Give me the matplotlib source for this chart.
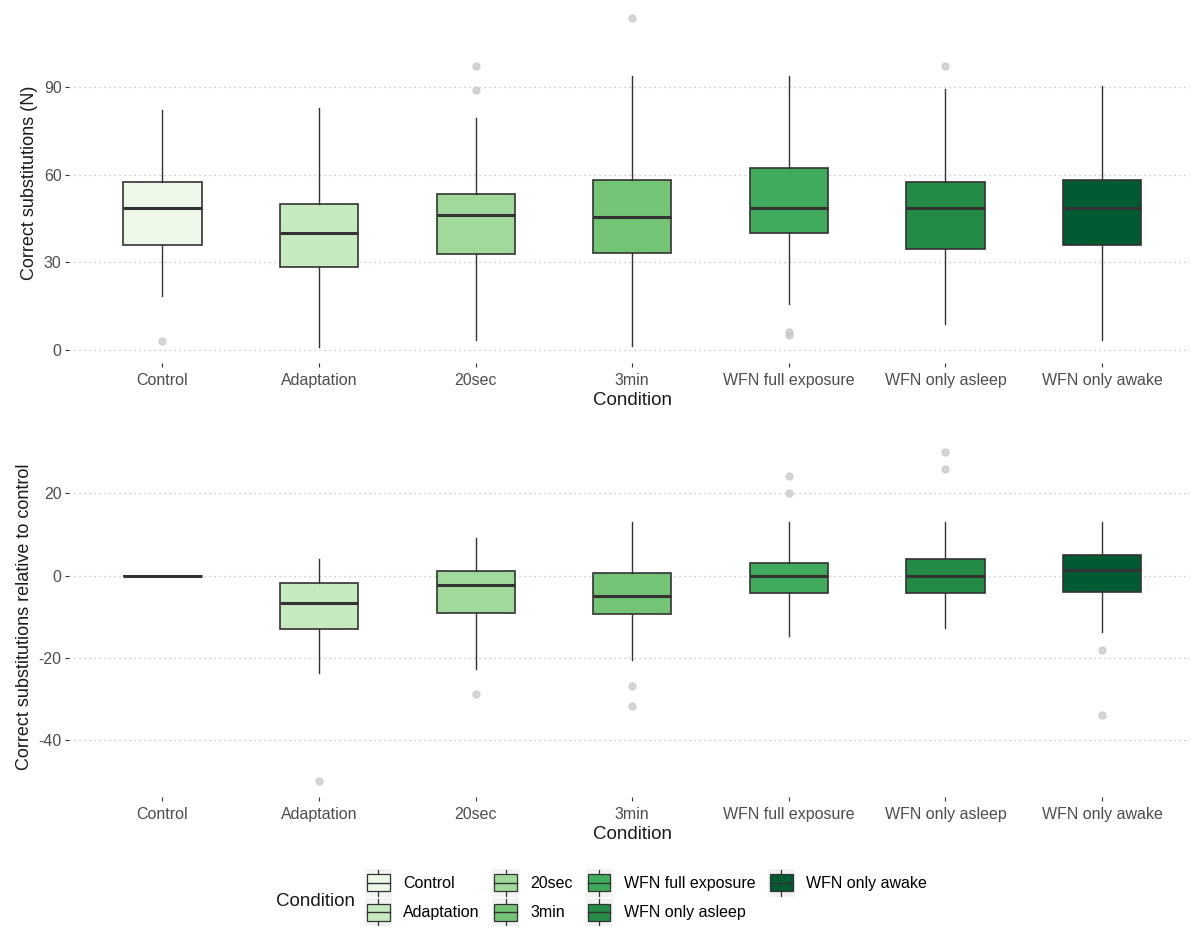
"""
Two-panel boxplot: correct substitutions by condition, raw and relative to control.
"""

import matplotlib
matplotlib.use("Agg")
import matplotlib.pyplot as plt
from matplotlib.patches import Patch, Rectangle
from matplotlib.lines import Line2D
from matplotlib.legend_handler import HandlerBase

plt.rcParams["font.family"] = ["Liberation Sans", "DejaVu Sans"]

conditions = ["Control", "Adaptation", "20sec", "3min",
              "WFN full exposure", "WFN only asleep", "WFN only awake"]
colors = ["#EDF8E9", "#C7E9C0", "#A1D99B", "#74C476", "#41AB5D", "#238B45", "#005A32"]

# top panel: correct substitutions (N)
n_whislo = [18.5, 1, 3.3, 1.2, 15.6, 8.6, 3.3]
n_q1 = [36, 28.4, 32.6, 33, 40, 34.4, 36]
n_med = [48.5, 40, 46.3, 45.4, 48.5, 48.5, 48.5]
n_q3 = [57.4, 50, 53.5, 58.3, 62.2, 57.4, 58.3]
n_whishi = [82.3, 83, 79.4, 93.7, 93.7, 89.3, 90.5]
n_fliers = [[3], [], [89, 97.4], [113.6], [5, 6], [97.4], []]
n_ticks = [0, 30, 60, 90]

# bottom panel: relative to control
d_whislo = [0, -23.7, -22.7, -20.5, -14.7, -12.8, -13.7]
d_q1 = [0, -13, -9, -9.3, -4.2, -4.2, -3.9]
d_med = [0, -6.6, -2.3, -4.9, 0, 0, 1.3]
d_q3 = [0, -1.9, 1.1, 0.6, 3, 4, 4.9]
d_whishi = [0, 4, 9.1, 13, 13, 13, 13]
d_fliers = [[], [-49.8], [-28.8], [-26.9, -31.8], [20, 24.1], [25.9, 29.9], [-18, -33.8]]
d_ticks = [-40, -20, 0, 20]

EDGE = "#333333"
TICK_TXT = "#4D4D4D"


class BoxKeyHandler(HandlerBase):
    def create_artists(self, legend, orig_handle, xdescent, ydescent,
                       width, height, fontsize, trans):
        x0, y0 = -xdescent, -ydescent
        bg = Rectangle((x0, y0), width, height, facecolor="#F2F2F2",
                       edgecolor="none", transform=trans)
        cx = x0 + width / 2
        stem = Line2D([cx, cx], [y0 + height * 0.04, y0 + height * 0.96],
                      color=EDGE, lw=0.9, transform=trans)
        box = Rectangle((x0 + width * 0.08, y0 + height * 0.2), width * 0.84, height * 0.6,
                        facecolor=orig_handle.get_facecolor(), edgecolor=EDGE, lw=0.9,
                        transform=trans)
        med = Line2D([x0 + width * 0.08, x0 + width * 0.92], [y0 + height / 2] * 2,
                     color=EDGE, lw=1.0, transform=trans)
        return [bg, stem, box, med]


def draw_panel(ax, whislo, q1, med, q3, whishi, fliers, ticks, ylabel):
    stats = [dict(whislo=a, q1=b, med=c, q3=d, whishi=e, fliers=f)
             for a, b, c, d, e, f in zip(whislo, q1, med, q3, whishi, fliers)]
    pos = list(range(1, len(conditions) + 1))
    bp = ax.bxp(stats, positions=pos, widths=0.5, patch_artist=True, showcaps=False,
                boxprops=dict(edgecolor=EDGE, linewidth=1.2),
                medianprops=dict(color=EDGE, linewidth=2.2),
                whiskerprops=dict(color=EDGE, linewidth=1.0),
                flierprops=dict(marker="o", markersize=5, markerfacecolor="#C8C8C8",
                                markeredgecolor="#C8C8C8", alpha=0.75))
    for patch, col in zip(bp["boxes"], colors):
        patch.set_facecolor(col)

    allvals = whislo + whishi + [v for fl in fliers for v in fl]
    lo, hi = min(allvals), max(allvals)
    pad = 0.05 * (hi - lo)
    ax.set_ylim(lo - pad, hi + pad)
    ax.set_xlim(0.4, len(conditions) + 0.6)

    ax.set_xticks(pos)
    ax.set_xticklabels(conditions)
    ax.set_yticks(ticks)
    ax.set_yticklabels([str(t) for t in ticks])
    for s in ax.spines.values():
        s.set_visible(False)
    ax.tick_params(axis="both", color=EDGE, labelcolor=TICK_TXT, labelsize=11.5,
                   length=3, width=0.8)
    ax.tick_params(axis="x", pad=4)
    ax.tick_params(axis="y", pad=2)
    ax.yaxis.grid(True, linestyle=(0, (1, 3)), color="#BDBDBD", linewidth=0.9)
    ax.set_axisbelow(True)
    ax.set_xlabel("Condition", fontsize=13.5, color="#1A1A1A", labelpad=3)
    ax.set_ylabel(ylabel, fontsize=13, color="#1A1A1A", labelpad=4)


fig = plt.figure(figsize=(11.9, 9.27), dpi=100)
# panel runs slightly past the right edge, as in the cropped original
ax1 = fig.add_axes([68.5 / 1190, 564 / 927, 1127.5 / 1190, 361 / 927])
ax2 = fig.add_axes([68.5 / 1190, 130 / 927, 1127.5 / 1190, 361 / 927])

draw_panel(ax1, n_whislo, n_q1, n_med, n_q3, n_whishi, n_fliers, n_ticks,
           "Correct substitutions (N)")
draw_panel(ax2, d_whislo, d_q1, d_med, d_q3, d_whishi, d_fliers, d_ticks,
           "Correct substitutions relative to control")

handles = [Patch(facecolor=c) for c in colors]
fig.text(355 / 1190, 26 / 927, "Condition", fontsize=13.5, color="#1A1A1A",
         ha="right", va="center")
fig.legend(handles, conditions, loc="center left", bbox_to_anchor=(365 / 1190, 29.5 / 927),
           ncol=4, frameon=False, handler_map={Patch: BoxKeyHandler()},
           fontsize=11.5, handlelength=1.69, handleheight=2.3, labelspacing=0.1,
           columnspacing=0.8, handletextpad=0.69, borderpad=0, borderaxespad=0)

fig.savefig("out.png", dpi=100, facecolor="white")
